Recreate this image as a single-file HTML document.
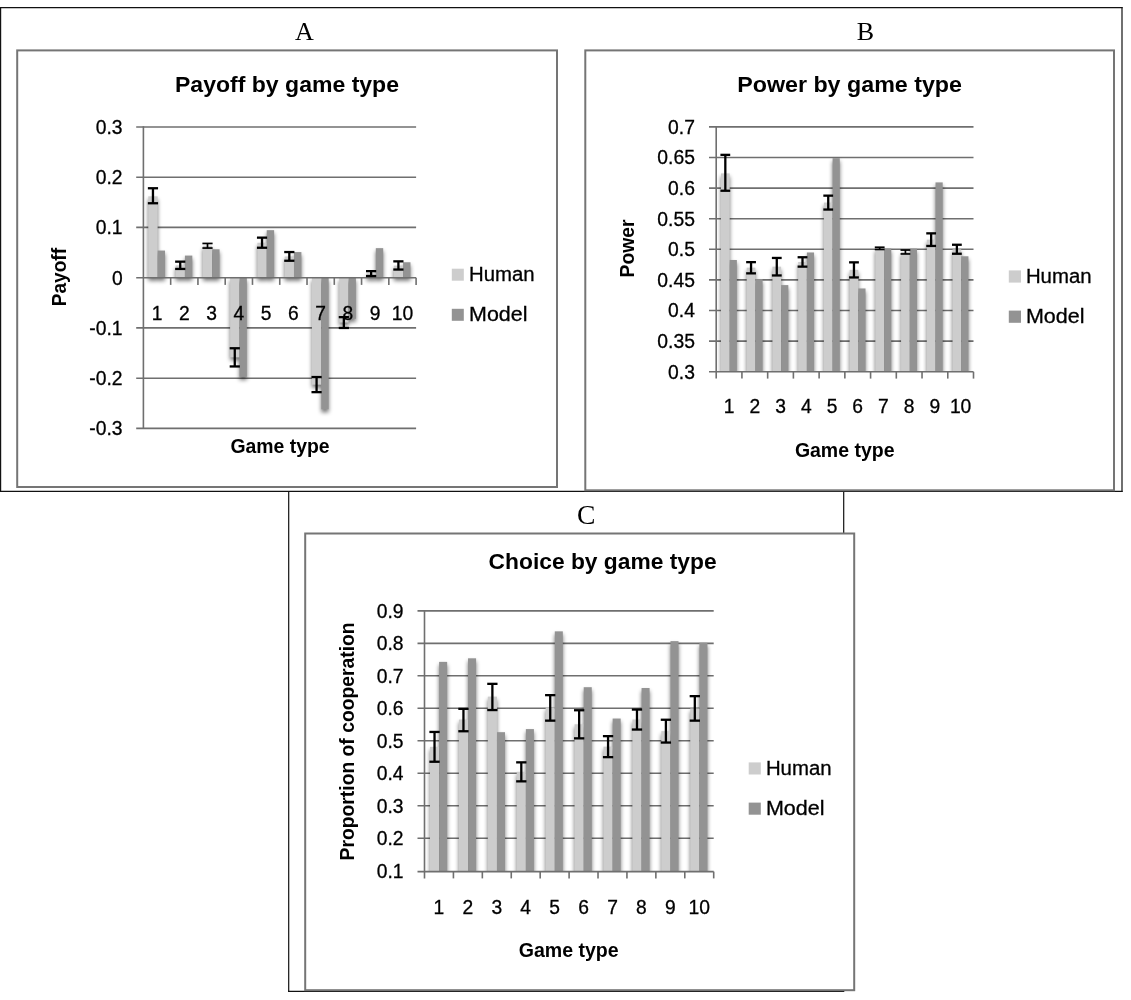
<!DOCTYPE html>
<html lang="en"><head><meta charset="utf-8"><title>Figure: payoff, power and choice by game type</title>
<style>html,body{margin:0;padding:0;background:#fff}svg{display:block}</style></head>
<body>
<svg width="1131" height="1000" viewBox="0 0 1131 1000">
<defs><filter id="sh" x="-5%" y="-5%" width="110%" height="110%" color-interpolation-filters="sRGB"><feGaussianBlur in="SourceAlpha" stdDeviation="1.9" result="b"/><feOffset in="b" dx="0.4" dy="3.0" result="o"/><feComponentTransfer in="o" result="s"><feFuncA type="linear" slope="0.55"/></feComponentTransfer><feMerge><feMergeNode in="s"/><feMergeNode in="SourceGraphic"/></feMerge></filter></defs>
<rect width="1131" height="1000" fill="#fff"/>
<line x1="0.00" y1="7.60" x2="1122.60" y2="7.60" stroke="#111" stroke-width="1.2" />
<line x1="0.60" y1="7.00" x2="0.60" y2="491.90" stroke="#111" stroke-width="1.2" />
<line x1="1122.00" y1="7.00" x2="1122.00" y2="491.90" stroke="#111" stroke-width="1.2" />
<line x1="0.00" y1="491.30" x2="1122.60" y2="491.30" stroke="#111" stroke-width="1.2" />
<line x1="288.70" y1="491.00" x2="288.70" y2="991.90" stroke="#111" stroke-width="1.2" />
<line x1="288.10" y1="991.30" x2="844.30" y2="991.30" stroke="#111" stroke-width="1.2" />
<line x1="843.70" y1="491.00" x2="843.70" y2="534.00" stroke="#111" stroke-width="1.2" />
<rect x="17.2" y="50.4" width="539.80" height="436.60" fill="none" stroke="#757575" stroke-width="2"/>
<rect x="585.3" y="50.4" width="528.70" height="439.90" fill="none" stroke="#757575" stroke-width="2"/>
<rect x="305.2" y="533.5" width="549.00" height="456.70" fill="#fff" stroke="#757575" stroke-width="2"/>
<text x="304.30" y="40.00" font-family='"Liberation Serif", serif' font-size="26" font-weight="normal" text-anchor="middle" fill="#000">A</text>
<text x="865.40" y="40.00" font-family='"Liberation Serif", serif' font-size="26" font-weight="normal" text-anchor="middle" fill="#000">B</text>
<text x="586.20" y="523.70" font-family='"Liberation Serif", serif' font-size="27.6" font-weight="normal" text-anchor="middle" fill="#000">C</text>
<line x1="136.20" y1="127.00" x2="416.10" y2="127.00" stroke="#6f6f6f" stroke-width="1.6" />
<line x1="136.20" y1="177.20" x2="416.10" y2="177.20" stroke="#6f6f6f" stroke-width="1.6" />
<line x1="136.20" y1="227.40" x2="416.10" y2="227.40" stroke="#6f6f6f" stroke-width="1.6" />
<line x1="136.20" y1="327.90" x2="416.10" y2="327.90" stroke="#6f6f6f" stroke-width="1.6" />
<line x1="136.20" y1="378.20" x2="416.10" y2="378.20" stroke="#6f6f6f" stroke-width="1.6" />
<line x1="136.20" y1="428.40" x2="416.10" y2="428.40" stroke="#6f6f6f" stroke-width="1.6" />
<clipPath id="clipA"><rect x="141.40" y="115.00" width="280.70" height="325.00"/></clipPath>
<g clip-path="url(#clipA)"><g filter="url(#sh)">
<rect x="148.28" y="196.32" width="9.35" height="81.38" fill="#cdcdcd"/>
<rect x="157.63" y="250.57" width="7.40" height="27.13" fill="#939393"/>
<rect x="175.56" y="265.38" width="9.35" height="12.32" fill="#cdcdcd"/>
<rect x="184.91" y="255.59" width="7.40" height="22.11" fill="#939393"/>
<rect x="202.83" y="245.79" width="9.35" height="31.91" fill="#cdcdcd"/>
<rect x="212.18" y="249.26" width="7.40" height="28.44" fill="#939393"/>
<rect x="230.10" y="277.70" width="9.35" height="79.65" fill="#cdcdcd"/>
<rect x="239.45" y="277.70" width="7.40" height="99.14" fill="#939393"/>
<rect x="257.37" y="242.78" width="9.35" height="34.92" fill="#cdcdcd"/>
<rect x="266.72" y="230.17" width="7.40" height="47.53" fill="#939393"/>
<rect x="284.63" y="256.49" width="9.35" height="21.21" fill="#cdcdcd"/>
<rect x="293.99" y="252.07" width="7.40" height="25.63" fill="#939393"/>
<rect x="311.91" y="277.70" width="9.35" height="106.98" fill="#cdcdcd"/>
<rect x="321.26" y="277.70" width="7.40" height="131.59" fill="#939393"/>
<rect x="339.18" y="277.70" width="9.35" height="44.85" fill="#cdcdcd"/>
<rect x="348.53" y="277.70" width="7.40" height="41.13" fill="#939393"/>
<rect x="366.45" y="273.17" width="9.35" height="4.53" fill="#cdcdcd"/>
<rect x="375.80" y="248.15" width="7.40" height="29.55" fill="#939393"/>
<rect x="393.72" y="265.63" width="9.35" height="12.07" fill="#cdcdcd"/>
<rect x="403.07" y="262.27" width="7.40" height="15.43" fill="#939393"/>
</g></g>
<line x1="143.40" y1="126.20" x2="143.40" y2="429.10" stroke="#6f6f6f" stroke-width="1.6" />
<line x1="136.20" y1="277.70" x2="416.10" y2="277.70" stroke="#6f6f6f" stroke-width="1.6" />
<line x1="170.67" y1="277.70" x2="170.67" y2="284.90" stroke="#6f6f6f" stroke-width="1.6" />
<line x1="197.94" y1="277.70" x2="197.94" y2="284.90" stroke="#6f6f6f" stroke-width="1.6" />
<line x1="225.21" y1="277.70" x2="225.21" y2="284.90" stroke="#6f6f6f" stroke-width="1.6" />
<line x1="252.48" y1="277.70" x2="252.48" y2="284.90" stroke="#6f6f6f" stroke-width="1.6" />
<line x1="279.75" y1="277.70" x2="279.75" y2="284.90" stroke="#6f6f6f" stroke-width="1.6" />
<line x1="307.02" y1="277.70" x2="307.02" y2="284.90" stroke="#6f6f6f" stroke-width="1.6" />
<line x1="334.29" y1="277.70" x2="334.29" y2="284.90" stroke="#6f6f6f" stroke-width="1.6" />
<line x1="361.56" y1="277.70" x2="361.56" y2="284.90" stroke="#6f6f6f" stroke-width="1.6" />
<line x1="388.83" y1="277.70" x2="388.83" y2="284.90" stroke="#6f6f6f" stroke-width="1.6" />
<line x1="416.10" y1="277.70" x2="416.10" y2="284.90" stroke="#6f6f6f" stroke-width="1.6" />
<line x1="152.96" y1="188.25" x2="152.96" y2="203.25" stroke="#000" stroke-width="2.3" />
<line x1="147.86" y1="188.25" x2="158.06" y2="188.25" stroke="#000" stroke-width="2.3" />
<line x1="147.86" y1="203.25" x2="158.06" y2="203.25" stroke="#000" stroke-width="2.3" />
<line x1="180.23" y1="261.65" x2="180.23" y2="268.95" stroke="#000" stroke-width="2.3" />
<line x1="175.13" y1="261.65" x2="185.33" y2="261.65" stroke="#000" stroke-width="2.3" />
<line x1="175.13" y1="268.95" x2="185.33" y2="268.95" stroke="#000" stroke-width="2.3" />
<line x1="207.50" y1="243.45" x2="207.50" y2="248.05" stroke="#000" stroke-width="1.7" />
<line x1="202.40" y1="243.45" x2="212.60" y2="243.45" stroke="#000" stroke-width="1.7" />
<line x1="202.40" y1="248.05" x2="212.60" y2="248.05" stroke="#000" stroke-width="1.7" />
<line x1="234.77" y1="348.25" x2="234.77" y2="366.45" stroke="#000" stroke-width="2.3" />
<line x1="229.67" y1="348.25" x2="239.87" y2="348.25" stroke="#000" stroke-width="2.3" />
<line x1="229.67" y1="366.45" x2="239.87" y2="366.45" stroke="#000" stroke-width="2.3" />
<line x1="262.04" y1="237.65" x2="262.04" y2="247.75" stroke="#000" stroke-width="2.3" />
<line x1="256.94" y1="237.65" x2="267.14" y2="237.65" stroke="#000" stroke-width="2.3" />
<line x1="256.94" y1="247.75" x2="267.14" y2="247.75" stroke="#000" stroke-width="2.3" />
<line x1="289.31" y1="252.05" x2="289.31" y2="260.75" stroke="#000" stroke-width="2.3" />
<line x1="284.21" y1="252.05" x2="294.41" y2="252.05" stroke="#000" stroke-width="2.3" />
<line x1="284.21" y1="260.75" x2="294.41" y2="260.75" stroke="#000" stroke-width="2.3" />
<line x1="316.58" y1="377.05" x2="316.58" y2="392.15" stroke="#000" stroke-width="2.3" />
<line x1="311.48" y1="377.05" x2="321.68" y2="377.05" stroke="#000" stroke-width="2.3" />
<line x1="311.48" y1="392.15" x2="321.68" y2="392.15" stroke="#000" stroke-width="2.3" />
<line x1="343.85" y1="317.15" x2="343.85" y2="327.95" stroke="#000" stroke-width="2.3" />
<line x1="338.75" y1="317.15" x2="348.95" y2="317.15" stroke="#000" stroke-width="2.3" />
<line x1="338.75" y1="327.95" x2="348.95" y2="327.95" stroke="#000" stroke-width="2.3" />
<line x1="371.12" y1="271.15" x2="371.12" y2="276.05" stroke="#000" stroke-width="2.3" />
<line x1="366.02" y1="271.15" x2="376.22" y2="271.15" stroke="#000" stroke-width="2.3" />
<line x1="366.02" y1="276.05" x2="376.22" y2="276.05" stroke="#000" stroke-width="2.3" />
<line x1="398.39" y1="261.35" x2="398.39" y2="269.55" stroke="#000" stroke-width="2.3" />
<line x1="393.29" y1="261.35" x2="403.49" y2="261.35" stroke="#000" stroke-width="2.3" />
<line x1="393.29" y1="269.55" x2="403.49" y2="269.55" stroke="#000" stroke-width="2.3" />
<text x="122.60" y="133.80" stroke="#000" stroke-width="0.3" font-family='"Liberation Sans", sans-serif' font-size="20" font-weight="normal" text-anchor="end" fill="#000" textLength="26.8" lengthAdjust="spacingAndGlyphs">0.3</text>
<text x="122.60" y="184.00" stroke="#000" stroke-width="0.3" font-family='"Liberation Sans", sans-serif' font-size="20" font-weight="normal" text-anchor="end" fill="#000" textLength="26.8" lengthAdjust="spacingAndGlyphs">0.2</text>
<text x="122.60" y="234.20" stroke="#000" stroke-width="0.3" font-family='"Liberation Sans", sans-serif' font-size="20" font-weight="normal" text-anchor="end" fill="#000" textLength="26.8" lengthAdjust="spacingAndGlyphs">0.1</text>
<text x="122.60" y="334.70" stroke="#000" stroke-width="0.3" font-family='"Liberation Sans", sans-serif' font-size="20" font-weight="normal" text-anchor="end" fill="#000" textLength="33.3" lengthAdjust="spacingAndGlyphs">-0.1</text>
<text x="122.60" y="385.00" stroke="#000" stroke-width="0.3" font-family='"Liberation Sans", sans-serif' font-size="20" font-weight="normal" text-anchor="end" fill="#000" textLength="33.3" lengthAdjust="spacingAndGlyphs">-0.2</text>
<text x="122.60" y="435.20" stroke="#000" stroke-width="0.3" font-family='"Liberation Sans", sans-serif' font-size="20" font-weight="normal" text-anchor="end" fill="#000" textLength="33.3" lengthAdjust="spacingAndGlyphs">-0.3</text>
<text x="157.03" y="319.80" stroke="#000" stroke-width="0.3" font-family='"Liberation Sans", sans-serif' font-size="20" font-weight="normal" text-anchor="middle" fill="#000" textLength="10.7" lengthAdjust="spacingAndGlyphs">1</text>
<text x="184.31" y="319.80" stroke="#000" stroke-width="0.3" font-family='"Liberation Sans", sans-serif' font-size="20" font-weight="normal" text-anchor="middle" fill="#000" textLength="10.7" lengthAdjust="spacingAndGlyphs">2</text>
<text x="211.58" y="319.80" stroke="#000" stroke-width="0.3" font-family='"Liberation Sans", sans-serif' font-size="20" font-weight="normal" text-anchor="middle" fill="#000" textLength="10.7" lengthAdjust="spacingAndGlyphs">3</text>
<text x="238.85" y="319.80" stroke="#000" stroke-width="0.3" font-family='"Liberation Sans", sans-serif' font-size="20" font-weight="normal" text-anchor="middle" fill="#000" textLength="10.7" lengthAdjust="spacingAndGlyphs">4</text>
<text x="266.12" y="319.80" stroke="#000" stroke-width="0.3" font-family='"Liberation Sans", sans-serif' font-size="20" font-weight="normal" text-anchor="middle" fill="#000" textLength="10.7" lengthAdjust="spacingAndGlyphs">5</text>
<text x="293.38" y="319.80" stroke="#000" stroke-width="0.3" font-family='"Liberation Sans", sans-serif' font-size="20" font-weight="normal" text-anchor="middle" fill="#000" textLength="10.7" lengthAdjust="spacingAndGlyphs">6</text>
<text x="320.66" y="319.80" stroke="#000" stroke-width="0.3" font-family='"Liberation Sans", sans-serif' font-size="20" font-weight="normal" text-anchor="middle" fill="#000" textLength="10.7" lengthAdjust="spacingAndGlyphs">7</text>
<text x="347.93" y="319.80" stroke="#000" stroke-width="0.3" font-family='"Liberation Sans", sans-serif' font-size="20" font-weight="normal" text-anchor="middle" fill="#000" textLength="10.7" lengthAdjust="spacingAndGlyphs">8</text>
<text x="375.20" y="319.80" stroke="#000" stroke-width="0.3" font-family='"Liberation Sans", sans-serif' font-size="20" font-weight="normal" text-anchor="middle" fill="#000" textLength="10.7" lengthAdjust="spacingAndGlyphs">9</text>
<text x="402.47" y="319.80" stroke="#000" stroke-width="0.3" font-family='"Liberation Sans", sans-serif' font-size="20" font-weight="normal" text-anchor="middle" fill="#000" textLength="21.5" lengthAdjust="spacingAndGlyphs">10</text>
<text x="122.60" y="284.50" stroke="#000" stroke-width="0.3" font-family='"Liberation Sans", sans-serif' font-size="20" font-weight="normal" text-anchor="end" fill="#000" textLength="10.7" lengthAdjust="spacingAndGlyphs">0</text>
<text x="175.00" y="91.70" font-family='"Liberation Sans", sans-serif' font-size="22.6" font-weight="bold" text-anchor="start" fill="#000" textLength="224.0" lengthAdjust="spacingAndGlyphs">Payoff by game type</text>
<text x="230.40" y="453.20" font-family='"Liberation Sans", sans-serif' font-size="21" font-weight="bold" text-anchor="start" fill="#000" textLength="99.2" lengthAdjust="spacingAndGlyphs">Game type</text>
<text x="66.00" y="306.30" font-family='"Liberation Sans", sans-serif' font-size="21" font-weight="bold" text-anchor="start" fill="#000" textLength="58.3" lengthAdjust="spacingAndGlyphs" transform="rotate(-90 66.00 306.30)">Payoff</text>
<rect x="451.8" y="268.7" width="12" height="12" fill="#cdcdcd"/>
<rect x="451.8" y="308.8" width="12" height="12" fill="#939393"/>
<text x="469.10" y="280.80" stroke="#000" stroke-width="0.3" font-family='"Liberation Sans", sans-serif' font-size="20" font-weight="normal" text-anchor="start" fill="#000" textLength="65.6" lengthAdjust="spacingAndGlyphs">Human</text>
<text x="469.10" y="321.00" stroke="#000" stroke-width="0.3" font-family='"Liberation Sans", sans-serif' font-size="20" font-weight="normal" text-anchor="start" fill="#000" textLength="58.4" lengthAdjust="spacingAndGlyphs">Model</text>
<line x1="709.00" y1="126.90" x2="973.50" y2="126.90" stroke="#6f6f6f" stroke-width="1.6" />
<line x1="709.00" y1="157.50" x2="973.50" y2="157.50" stroke="#6f6f6f" stroke-width="1.6" />
<line x1="709.00" y1="188.10" x2="973.50" y2="188.10" stroke="#6f6f6f" stroke-width="1.6" />
<line x1="709.00" y1="218.70" x2="973.50" y2="218.70" stroke="#6f6f6f" stroke-width="1.6" />
<line x1="709.00" y1="249.30" x2="973.50" y2="249.30" stroke="#6f6f6f" stroke-width="1.6" />
<line x1="709.00" y1="279.90" x2="973.50" y2="279.90" stroke="#6f6f6f" stroke-width="1.6" />
<line x1="709.00" y1="310.50" x2="973.50" y2="310.50" stroke="#6f6f6f" stroke-width="1.6" />
<line x1="709.00" y1="341.10" x2="973.50" y2="341.10" stroke="#6f6f6f" stroke-width="1.6" />
<clipPath id="clipB"><rect x="714.20" y="114.90" width="265.30" height="256.90"/></clipPath>
<g clip-path="url(#clipB)"><g filter="url(#sh)">
<rect x="720.97" y="173.41" width="8.70" height="198.39" fill="#cdcdcd"/>
<rect x="729.67" y="260.01" width="7.20" height="111.79" fill="#939393"/>
<rect x="746.70" y="267.66" width="8.70" height="104.14" fill="#cdcdcd"/>
<rect x="755.40" y="279.10" width="7.20" height="92.70" fill="#939393"/>
<rect x="772.43" y="266.68" width="8.70" height="105.12" fill="#cdcdcd"/>
<rect x="781.13" y="285.10" width="7.20" height="86.70" fill="#939393"/>
<rect x="798.15" y="261.97" width="8.70" height="109.83" fill="#cdcdcd"/>
<rect x="806.86" y="252.48" width="7.20" height="119.32" fill="#939393"/>
<rect x="823.88" y="202.60" width="8.70" height="169.20" fill="#cdcdcd"/>
<rect x="832.59" y="158.11" width="7.20" height="213.69" fill="#939393"/>
<rect x="849.62" y="269.86" width="8.70" height="101.94" fill="#cdcdcd"/>
<rect x="858.32" y="288.47" width="7.20" height="83.33" fill="#939393"/>
<rect x="875.35" y="248.32" width="8.70" height="123.48" fill="#cdcdcd"/>
<rect x="884.05" y="248.50" width="7.20" height="123.30" fill="#939393"/>
<rect x="901.07" y="251.93" width="8.70" height="119.87" fill="#cdcdcd"/>
<rect x="909.77" y="248.69" width="7.20" height="123.11" fill="#939393"/>
<rect x="926.80" y="239.69" width="8.70" height="132.11" fill="#cdcdcd"/>
<rect x="935.50" y="182.41" width="7.20" height="189.39" fill="#939393"/>
<rect x="952.53" y="249.30" width="8.70" height="122.50" fill="#cdcdcd"/>
<rect x="961.24" y="256.28" width="7.20" height="115.52" fill="#939393"/>
</g></g>
<line x1="716.20" y1="126.10" x2="716.20" y2="378.60" stroke="#6f6f6f" stroke-width="1.6" />
<line x1="709.00" y1="371.80" x2="973.50" y2="371.80" stroke="#6f6f6f" stroke-width="1.6" />
<line x1="741.93" y1="371.80" x2="741.93" y2="378.60" stroke="#6f6f6f" stroke-width="1.6" />
<line x1="767.66" y1="371.80" x2="767.66" y2="378.60" stroke="#6f6f6f" stroke-width="1.6" />
<line x1="793.39" y1="371.80" x2="793.39" y2="378.60" stroke="#6f6f6f" stroke-width="1.6" />
<line x1="819.12" y1="371.80" x2="819.12" y2="378.60" stroke="#6f6f6f" stroke-width="1.6" />
<line x1="844.85" y1="371.80" x2="844.85" y2="378.60" stroke="#6f6f6f" stroke-width="1.6" />
<line x1="870.58" y1="371.80" x2="870.58" y2="378.60" stroke="#6f6f6f" stroke-width="1.6" />
<line x1="896.31" y1="371.80" x2="896.31" y2="378.60" stroke="#6f6f6f" stroke-width="1.6" />
<line x1="922.04" y1="371.80" x2="922.04" y2="378.60" stroke="#6f6f6f" stroke-width="1.6" />
<line x1="947.77" y1="371.80" x2="947.77" y2="378.60" stroke="#6f6f6f" stroke-width="1.6" />
<line x1="973.50" y1="371.80" x2="973.50" y2="378.60" stroke="#6f6f6f" stroke-width="1.6" />
<line x1="725.32" y1="154.85" x2="725.32" y2="190.75" stroke="#000" stroke-width="2.3" />
<line x1="720.42" y1="154.85" x2="730.22" y2="154.85" stroke="#000" stroke-width="2.3" />
<line x1="720.42" y1="190.75" x2="730.22" y2="190.75" stroke="#000" stroke-width="2.3" />
<line x1="751.05" y1="262.15" x2="751.05" y2="273.35" stroke="#000" stroke-width="2.3" />
<line x1="746.15" y1="262.15" x2="755.95" y2="262.15" stroke="#000" stroke-width="2.3" />
<line x1="746.15" y1="273.35" x2="755.95" y2="273.35" stroke="#000" stroke-width="2.3" />
<line x1="776.78" y1="257.95" x2="776.78" y2="275.45" stroke="#000" stroke-width="2.3" />
<line x1="771.88" y1="257.95" x2="781.68" y2="257.95" stroke="#000" stroke-width="2.3" />
<line x1="771.88" y1="275.45" x2="781.68" y2="275.45" stroke="#000" stroke-width="2.3" />
<line x1="802.50" y1="257.25" x2="802.50" y2="266.65" stroke="#000" stroke-width="2.3" />
<line x1="797.60" y1="257.25" x2="807.40" y2="257.25" stroke="#000" stroke-width="2.3" />
<line x1="797.60" y1="266.65" x2="807.40" y2="266.65" stroke="#000" stroke-width="2.3" />
<line x1="828.23" y1="195.65" x2="828.23" y2="209.55" stroke="#000" stroke-width="2.3" />
<line x1="823.33" y1="195.65" x2="833.13" y2="195.65" stroke="#000" stroke-width="2.3" />
<line x1="823.33" y1="209.55" x2="833.13" y2="209.55" stroke="#000" stroke-width="2.3" />
<line x1="853.96" y1="262.35" x2="853.96" y2="277.45" stroke="#000" stroke-width="2.3" />
<line x1="849.06" y1="262.35" x2="858.86" y2="262.35" stroke="#000" stroke-width="2.3" />
<line x1="849.06" y1="277.45" x2="858.86" y2="277.45" stroke="#000" stroke-width="2.3" />
<line x1="879.69" y1="247.25" x2="879.69" y2="249.45" stroke="#000" stroke-width="1.7" />
<line x1="874.79" y1="247.25" x2="884.59" y2="247.25" stroke="#000" stroke-width="1.7" />
<line x1="874.79" y1="249.45" x2="884.59" y2="249.45" stroke="#000" stroke-width="1.7" />
<line x1="905.42" y1="250.05" x2="905.42" y2="253.95" stroke="#000" stroke-width="1.7" />
<line x1="900.52" y1="250.05" x2="910.32" y2="250.05" stroke="#000" stroke-width="1.7" />
<line x1="900.52" y1="253.95" x2="910.32" y2="253.95" stroke="#000" stroke-width="1.7" />
<line x1="931.15" y1="233.35" x2="931.15" y2="245.95" stroke="#000" stroke-width="2.3" />
<line x1="926.25" y1="233.35" x2="936.05" y2="233.35" stroke="#000" stroke-width="2.3" />
<line x1="926.25" y1="245.95" x2="936.05" y2="245.95" stroke="#000" stroke-width="2.3" />
<line x1="956.88" y1="244.75" x2="956.88" y2="253.75" stroke="#000" stroke-width="2.3" />
<line x1="951.99" y1="244.75" x2="961.78" y2="244.75" stroke="#000" stroke-width="2.3" />
<line x1="951.99" y1="253.75" x2="961.78" y2="253.75" stroke="#000" stroke-width="2.3" />
<text x="694.90" y="133.70" stroke="#000" stroke-width="0.3" font-family='"Liberation Sans", sans-serif' font-size="20" font-weight="normal" text-anchor="end" fill="#000" textLength="26.8" lengthAdjust="spacingAndGlyphs">0.7</text>
<text x="694.90" y="164.30" stroke="#000" stroke-width="0.3" font-family='"Liberation Sans", sans-serif' font-size="20" font-weight="normal" text-anchor="end" fill="#000" textLength="37.6" lengthAdjust="spacingAndGlyphs">0.65</text>
<text x="694.90" y="194.90" stroke="#000" stroke-width="0.3" font-family='"Liberation Sans", sans-serif' font-size="20" font-weight="normal" text-anchor="end" fill="#000" textLength="26.8" lengthAdjust="spacingAndGlyphs">0.6</text>
<text x="694.90" y="225.50" stroke="#000" stroke-width="0.3" font-family='"Liberation Sans", sans-serif' font-size="20" font-weight="normal" text-anchor="end" fill="#000" textLength="37.6" lengthAdjust="spacingAndGlyphs">0.55</text>
<text x="694.90" y="256.10" stroke="#000" stroke-width="0.3" font-family='"Liberation Sans", sans-serif' font-size="20" font-weight="normal" text-anchor="end" fill="#000" textLength="26.8" lengthAdjust="spacingAndGlyphs">0.5</text>
<text x="694.90" y="286.70" stroke="#000" stroke-width="0.3" font-family='"Liberation Sans", sans-serif' font-size="20" font-weight="normal" text-anchor="end" fill="#000" textLength="37.6" lengthAdjust="spacingAndGlyphs">0.45</text>
<text x="694.90" y="317.30" stroke="#000" stroke-width="0.3" font-family='"Liberation Sans", sans-serif' font-size="20" font-weight="normal" text-anchor="end" fill="#000" textLength="26.8" lengthAdjust="spacingAndGlyphs">0.4</text>
<text x="694.90" y="347.90" stroke="#000" stroke-width="0.3" font-family='"Liberation Sans", sans-serif' font-size="20" font-weight="normal" text-anchor="end" fill="#000" textLength="37.6" lengthAdjust="spacingAndGlyphs">0.35</text>
<text x="729.07" y="413.30" stroke="#000" stroke-width="0.3" font-family='"Liberation Sans", sans-serif' font-size="20" font-weight="normal" text-anchor="middle" fill="#000" textLength="10.7" lengthAdjust="spacingAndGlyphs">1</text>
<text x="754.80" y="413.30" stroke="#000" stroke-width="0.3" font-family='"Liberation Sans", sans-serif' font-size="20" font-weight="normal" text-anchor="middle" fill="#000" textLength="10.7" lengthAdjust="spacingAndGlyphs">2</text>
<text x="780.53" y="413.30" stroke="#000" stroke-width="0.3" font-family='"Liberation Sans", sans-serif' font-size="20" font-weight="normal" text-anchor="middle" fill="#000" textLength="10.7" lengthAdjust="spacingAndGlyphs">3</text>
<text x="806.25" y="413.30" stroke="#000" stroke-width="0.3" font-family='"Liberation Sans", sans-serif' font-size="20" font-weight="normal" text-anchor="middle" fill="#000" textLength="10.7" lengthAdjust="spacingAndGlyphs">4</text>
<text x="831.99" y="413.30" stroke="#000" stroke-width="0.3" font-family='"Liberation Sans", sans-serif' font-size="20" font-weight="normal" text-anchor="middle" fill="#000" textLength="10.7" lengthAdjust="spacingAndGlyphs">5</text>
<text x="857.72" y="413.30" stroke="#000" stroke-width="0.3" font-family='"Liberation Sans", sans-serif' font-size="20" font-weight="normal" text-anchor="middle" fill="#000" textLength="10.7" lengthAdjust="spacingAndGlyphs">6</text>
<text x="883.45" y="413.30" stroke="#000" stroke-width="0.3" font-family='"Liberation Sans", sans-serif' font-size="20" font-weight="normal" text-anchor="middle" fill="#000" textLength="10.7" lengthAdjust="spacingAndGlyphs">7</text>
<text x="909.17" y="413.30" stroke="#000" stroke-width="0.3" font-family='"Liberation Sans", sans-serif' font-size="20" font-weight="normal" text-anchor="middle" fill="#000" textLength="10.7" lengthAdjust="spacingAndGlyphs">8</text>
<text x="934.90" y="413.30" stroke="#000" stroke-width="0.3" font-family='"Liberation Sans", sans-serif' font-size="20" font-weight="normal" text-anchor="middle" fill="#000" textLength="10.7" lengthAdjust="spacingAndGlyphs">9</text>
<text x="960.63" y="413.30" stroke="#000" stroke-width="0.3" font-family='"Liberation Sans", sans-serif' font-size="20" font-weight="normal" text-anchor="middle" fill="#000" textLength="21.5" lengthAdjust="spacingAndGlyphs">10</text>
<text x="694.90" y="378.60" stroke="#000" stroke-width="0.3" font-family='"Liberation Sans", sans-serif' font-size="20" font-weight="normal" text-anchor="end" fill="#000" textLength="26.8" lengthAdjust="spacingAndGlyphs">0.3</text>
<text x="737.20" y="91.70" font-family='"Liberation Sans", sans-serif' font-size="22.6" font-weight="bold" text-anchor="start" fill="#000" textLength="224.8" lengthAdjust="spacingAndGlyphs">Power by game type</text>
<text x="794.90" y="456.80" font-family='"Liberation Sans", sans-serif' font-size="21" font-weight="bold" text-anchor="start" fill="#000" textLength="99.6" lengthAdjust="spacingAndGlyphs">Game type</text>
<text x="634.00" y="277.50" font-family='"Liberation Sans", sans-serif' font-size="21" font-weight="bold" text-anchor="start" fill="#000" textLength="58.0" lengthAdjust="spacingAndGlyphs" transform="rotate(-90 634.00 277.50)">Power</text>
<rect x="1008.8" y="270.4" width="12.2" height="12.2" fill="#cdcdcd"/>
<rect x="1008.8" y="310.6" width="12.2" height="12.2" fill="#939393"/>
<text x="1025.90" y="283.00" stroke="#000" stroke-width="0.3" font-family='"Liberation Sans", sans-serif' font-size="20" font-weight="normal" text-anchor="start" fill="#000" textLength="65.7" lengthAdjust="spacingAndGlyphs">Human</text>
<text x="1025.90" y="322.70" stroke="#000" stroke-width="0.3" font-family='"Liberation Sans", sans-serif' font-size="20" font-weight="normal" text-anchor="start" fill="#000" textLength="58.6" lengthAdjust="spacingAndGlyphs">Model</text>
<line x1="417.50" y1="610.90" x2="713.70" y2="610.90" stroke="#6f6f6f" stroke-width="1.6" />
<line x1="417.50" y1="643.40" x2="713.70" y2="643.40" stroke="#6f6f6f" stroke-width="1.6" />
<line x1="417.50" y1="675.80" x2="713.70" y2="675.80" stroke="#6f6f6f" stroke-width="1.6" />
<line x1="417.50" y1="708.30" x2="713.70" y2="708.30" stroke="#6f6f6f" stroke-width="1.6" />
<line x1="417.50" y1="740.80" x2="713.70" y2="740.80" stroke="#6f6f6f" stroke-width="1.6" />
<line x1="417.50" y1="773.20" x2="713.70" y2="773.20" stroke="#6f6f6f" stroke-width="1.6" />
<line x1="417.50" y1="805.70" x2="713.70" y2="805.70" stroke="#6f6f6f" stroke-width="1.6" />
<line x1="417.50" y1="838.20" x2="713.70" y2="838.20" stroke="#6f6f6f" stroke-width="1.6" />
<clipPath id="clipC"><rect x="422.50" y="598.90" width="297.20" height="272.70"/></clipPath>
<g clip-path="url(#clipC)"><g filter="url(#sh)">
<rect x="429.96" y="746.88" width="9.15" height="124.72" fill="#cdcdcd"/>
<rect x="439.11" y="661.88" width="8.05" height="209.72" fill="#939393"/>
<rect x="458.88" y="719.54" width="9.15" height="152.06" fill="#cdcdcd"/>
<rect x="468.03" y="658.31" width="8.05" height="213.29" fill="#939393"/>
<rect x="487.80" y="696.62" width="9.15" height="174.98" fill="#cdcdcd"/>
<rect x="496.95" y="732.18" width="8.05" height="139.42" fill="#939393"/>
<rect x="516.72" y="771.79" width="9.15" height="99.81" fill="#cdcdcd"/>
<rect x="525.87" y="729.09" width="8.05" height="142.51" fill="#939393"/>
<rect x="545.64" y="707.50" width="9.15" height="164.10" fill="#cdcdcd"/>
<rect x="554.79" y="631.36" width="8.05" height="240.24" fill="#939393"/>
<rect x="574.56" y="724.29" width="9.15" height="147.31" fill="#cdcdcd"/>
<rect x="583.71" y="687.20" width="8.05" height="184.40" fill="#939393"/>
<rect x="603.48" y="746.66" width="9.15" height="124.94" fill="#cdcdcd"/>
<rect x="612.63" y="718.54" width="8.05" height="153.06" fill="#939393"/>
<rect x="632.40" y="719.54" width="9.15" height="152.06" fill="#cdcdcd"/>
<rect x="641.55" y="688.02" width="8.05" height="183.58" fill="#939393"/>
<rect x="661.32" y="731.14" width="9.15" height="140.46" fill="#cdcdcd"/>
<rect x="670.47" y="641.13" width="8.05" height="230.47" fill="#939393"/>
<rect x="690.24" y="708.41" width="9.15" height="163.19" fill="#cdcdcd"/>
<rect x="699.39" y="642.85" width="8.05" height="228.75" fill="#939393"/>
</g></g>
<line x1="424.50" y1="610.10" x2="424.50" y2="878.60" stroke="#6f6f6f" stroke-width="1.6" />
<line x1="417.50" y1="871.60" x2="713.70" y2="871.60" stroke="#6f6f6f" stroke-width="1.6" />
<line x1="453.42" y1="871.60" x2="453.42" y2="878.40" stroke="#6f6f6f" stroke-width="1.6" />
<line x1="482.34" y1="871.60" x2="482.34" y2="878.40" stroke="#6f6f6f" stroke-width="1.6" />
<line x1="511.26" y1="871.60" x2="511.26" y2="878.40" stroke="#6f6f6f" stroke-width="1.6" />
<line x1="540.18" y1="871.60" x2="540.18" y2="878.40" stroke="#6f6f6f" stroke-width="1.6" />
<line x1="569.10" y1="871.60" x2="569.10" y2="878.40" stroke="#6f6f6f" stroke-width="1.6" />
<line x1="598.02" y1="871.60" x2="598.02" y2="878.40" stroke="#6f6f6f" stroke-width="1.6" />
<line x1="626.94" y1="871.60" x2="626.94" y2="878.40" stroke="#6f6f6f" stroke-width="1.6" />
<line x1="655.86" y1="871.60" x2="655.86" y2="878.40" stroke="#6f6f6f" stroke-width="1.6" />
<line x1="684.78" y1="871.60" x2="684.78" y2="878.40" stroke="#6f6f6f" stroke-width="1.6" />
<line x1="713.70" y1="871.60" x2="713.70" y2="878.40" stroke="#6f6f6f" stroke-width="1.6" />
<line x1="434.53" y1="731.95" x2="434.53" y2="761.75" stroke="#000" stroke-width="2.3" />
<line x1="429.38" y1="731.95" x2="439.68" y2="731.95" stroke="#000" stroke-width="2.3" />
<line x1="429.38" y1="761.75" x2="439.68" y2="761.75" stroke="#000" stroke-width="2.3" />
<line x1="463.45" y1="708.85" x2="463.45" y2="731.25" stroke="#000" stroke-width="2.3" />
<line x1="458.31" y1="708.85" x2="468.60" y2="708.85" stroke="#000" stroke-width="2.3" />
<line x1="458.31" y1="731.25" x2="468.60" y2="731.25" stroke="#000" stroke-width="2.3" />
<line x1="492.38" y1="683.85" x2="492.38" y2="710.05" stroke="#000" stroke-width="2.3" />
<line x1="487.23" y1="683.85" x2="497.52" y2="683.85" stroke="#000" stroke-width="2.3" />
<line x1="487.23" y1="710.05" x2="497.52" y2="710.05" stroke="#000" stroke-width="2.3" />
<line x1="521.30" y1="762.35" x2="521.30" y2="781.35" stroke="#000" stroke-width="2.3" />
<line x1="516.15" y1="762.35" x2="526.45" y2="762.35" stroke="#000" stroke-width="2.3" />
<line x1="516.15" y1="781.35" x2="526.45" y2="781.35" stroke="#000" stroke-width="2.3" />
<line x1="550.22" y1="695.15" x2="550.22" y2="720.65" stroke="#000" stroke-width="2.3" />
<line x1="545.07" y1="695.15" x2="555.37" y2="695.15" stroke="#000" stroke-width="2.3" />
<line x1="545.07" y1="720.65" x2="555.37" y2="720.65" stroke="#000" stroke-width="2.3" />
<line x1="579.14" y1="710.25" x2="579.14" y2="738.35" stroke="#000" stroke-width="2.3" />
<line x1="573.99" y1="710.25" x2="584.29" y2="710.25" stroke="#000" stroke-width="2.3" />
<line x1="573.99" y1="738.35" x2="584.29" y2="738.35" stroke="#000" stroke-width="2.3" />
<line x1="608.06" y1="736.15" x2="608.06" y2="757.15" stroke="#000" stroke-width="2.3" />
<line x1="602.91" y1="736.15" x2="613.21" y2="736.15" stroke="#000" stroke-width="2.3" />
<line x1="602.91" y1="757.15" x2="613.21" y2="757.15" stroke="#000" stroke-width="2.3" />
<line x1="636.98" y1="709.55" x2="636.98" y2="729.55" stroke="#000" stroke-width="2.3" />
<line x1="631.83" y1="709.55" x2="642.13" y2="709.55" stroke="#000" stroke-width="2.3" />
<line x1="631.83" y1="729.55" x2="642.13" y2="729.55" stroke="#000" stroke-width="2.3" />
<line x1="665.90" y1="719.75" x2="665.90" y2="742.55" stroke="#000" stroke-width="2.3" />
<line x1="660.75" y1="719.75" x2="671.05" y2="719.75" stroke="#000" stroke-width="2.3" />
<line x1="660.75" y1="742.55" x2="671.05" y2="742.55" stroke="#000" stroke-width="2.3" />
<line x1="694.82" y1="696.15" x2="694.82" y2="720.65" stroke="#000" stroke-width="2.3" />
<line x1="689.67" y1="696.15" x2="699.97" y2="696.15" stroke="#000" stroke-width="2.3" />
<line x1="689.67" y1="720.65" x2="699.97" y2="720.65" stroke="#000" stroke-width="2.3" />
<text x="403.60" y="617.70" stroke="#000" stroke-width="0.3" font-family='"Liberation Sans", sans-serif' font-size="20" font-weight="normal" text-anchor="end" fill="#000" textLength="26.8" lengthAdjust="spacingAndGlyphs">0.9</text>
<text x="403.60" y="650.20" stroke="#000" stroke-width="0.3" font-family='"Liberation Sans", sans-serif' font-size="20" font-weight="normal" text-anchor="end" fill="#000" textLength="26.8" lengthAdjust="spacingAndGlyphs">0.8</text>
<text x="403.60" y="682.60" stroke="#000" stroke-width="0.3" font-family='"Liberation Sans", sans-serif' font-size="20" font-weight="normal" text-anchor="end" fill="#000" textLength="26.8" lengthAdjust="spacingAndGlyphs">0.7</text>
<text x="403.60" y="715.10" stroke="#000" stroke-width="0.3" font-family='"Liberation Sans", sans-serif' font-size="20" font-weight="normal" text-anchor="end" fill="#000" textLength="26.8" lengthAdjust="spacingAndGlyphs">0.6</text>
<text x="403.60" y="747.60" stroke="#000" stroke-width="0.3" font-family='"Liberation Sans", sans-serif' font-size="20" font-weight="normal" text-anchor="end" fill="#000" textLength="26.8" lengthAdjust="spacingAndGlyphs">0.5</text>
<text x="403.60" y="780.00" stroke="#000" stroke-width="0.3" font-family='"Liberation Sans", sans-serif' font-size="20" font-weight="normal" text-anchor="end" fill="#000" textLength="26.8" lengthAdjust="spacingAndGlyphs">0.4</text>
<text x="403.60" y="812.50" stroke="#000" stroke-width="0.3" font-family='"Liberation Sans", sans-serif' font-size="20" font-weight="normal" text-anchor="end" fill="#000" textLength="26.8" lengthAdjust="spacingAndGlyphs">0.3</text>
<text x="403.60" y="845.00" stroke="#000" stroke-width="0.3" font-family='"Liberation Sans", sans-serif' font-size="20" font-weight="normal" text-anchor="end" fill="#000" textLength="26.8" lengthAdjust="spacingAndGlyphs">0.2</text>
<text x="438.96" y="913.60" stroke="#000" stroke-width="0.3" font-family='"Liberation Sans", sans-serif' font-size="20" font-weight="normal" text-anchor="middle" fill="#000" textLength="10.7" lengthAdjust="spacingAndGlyphs">1</text>
<text x="467.88" y="913.60" stroke="#000" stroke-width="0.3" font-family='"Liberation Sans", sans-serif' font-size="20" font-weight="normal" text-anchor="middle" fill="#000" textLength="10.7" lengthAdjust="spacingAndGlyphs">2</text>
<text x="496.80" y="913.60" stroke="#000" stroke-width="0.3" font-family='"Liberation Sans", sans-serif' font-size="20" font-weight="normal" text-anchor="middle" fill="#000" textLength="10.7" lengthAdjust="spacingAndGlyphs">3</text>
<text x="525.72" y="913.60" stroke="#000" stroke-width="0.3" font-family='"Liberation Sans", sans-serif' font-size="20" font-weight="normal" text-anchor="middle" fill="#000" textLength="10.7" lengthAdjust="spacingAndGlyphs">4</text>
<text x="554.64" y="913.60" stroke="#000" stroke-width="0.3" font-family='"Liberation Sans", sans-serif' font-size="20" font-weight="normal" text-anchor="middle" fill="#000" textLength="10.7" lengthAdjust="spacingAndGlyphs">5</text>
<text x="583.56" y="913.60" stroke="#000" stroke-width="0.3" font-family='"Liberation Sans", sans-serif' font-size="20" font-weight="normal" text-anchor="middle" fill="#000" textLength="10.7" lengthAdjust="spacingAndGlyphs">6</text>
<text x="612.48" y="913.60" stroke="#000" stroke-width="0.3" font-family='"Liberation Sans", sans-serif' font-size="20" font-weight="normal" text-anchor="middle" fill="#000" textLength="10.7" lengthAdjust="spacingAndGlyphs">7</text>
<text x="641.40" y="913.60" stroke="#000" stroke-width="0.3" font-family='"Liberation Sans", sans-serif' font-size="20" font-weight="normal" text-anchor="middle" fill="#000" textLength="10.7" lengthAdjust="spacingAndGlyphs">8</text>
<text x="670.32" y="913.60" stroke="#000" stroke-width="0.3" font-family='"Liberation Sans", sans-serif' font-size="20" font-weight="normal" text-anchor="middle" fill="#000" textLength="10.7" lengthAdjust="spacingAndGlyphs">9</text>
<text x="699.24" y="913.60" stroke="#000" stroke-width="0.3" font-family='"Liberation Sans", sans-serif' font-size="20" font-weight="normal" text-anchor="middle" fill="#000" textLength="21.5" lengthAdjust="spacingAndGlyphs">10</text>
<text x="403.60" y="877.80" stroke="#000" stroke-width="0.3" font-family='"Liberation Sans", sans-serif' font-size="20" font-weight="normal" text-anchor="end" fill="#000" textLength="26.8" lengthAdjust="spacingAndGlyphs">0.1</text>
<text x="488.60" y="568.60" font-family='"Liberation Sans", sans-serif' font-size="22.6" font-weight="bold" text-anchor="start" fill="#000" textLength="228.0" lengthAdjust="spacingAndGlyphs">Choice by game type</text>
<text x="518.70" y="957.30" font-family='"Liberation Sans", sans-serif' font-size="21" font-weight="bold" text-anchor="start" fill="#000" textLength="100.0" lengthAdjust="spacingAndGlyphs">Game type</text>
<text x="354.20" y="860.40" font-family='"Liberation Sans", sans-serif' font-size="21" font-weight="bold" text-anchor="start" fill="#000" textLength="238.0" lengthAdjust="spacingAndGlyphs" transform="rotate(-90 354.20 860.40)">Proportion of cooperation</text>
<rect x="748.7" y="762.4" width="12.1" height="12.1" fill="#cdcdcd"/>
<rect x="748.7" y="802.6" width="12.1" height="12.1" fill="#939393"/>
<text x="765.90" y="774.90" stroke="#000" stroke-width="0.3" font-family='"Liberation Sans", sans-serif' font-size="20" font-weight="normal" text-anchor="start" fill="#000" textLength="65.7" lengthAdjust="spacingAndGlyphs">Human</text>
<text x="765.90" y="814.90" stroke="#000" stroke-width="0.3" font-family='"Liberation Sans", sans-serif' font-size="20" font-weight="normal" text-anchor="start" fill="#000" textLength="58.6" lengthAdjust="spacingAndGlyphs">Model</text>
</svg>
</body></html>
